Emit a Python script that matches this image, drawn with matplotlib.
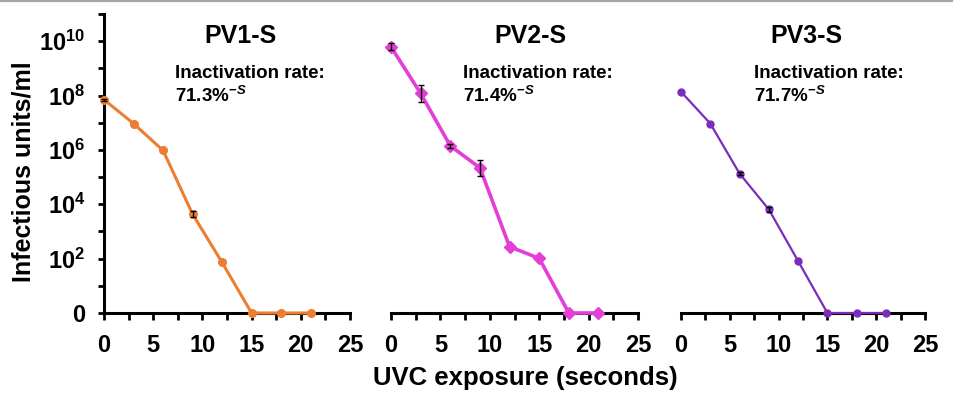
import numpy as np
import matplotlib
matplotlib.use("Agg")
import matplotlib.pyplot as plt
from matplotlib.lines import Line2D

plt.rcParams["font.family"] = ["Liberation Sans", "DejaVu Sans"]
plt.rcParams["font.weight"] = "bold"
plt.rcParams["mathtext.fontset"] = "custom"
plt.rcParams["mathtext.rm"] = "Liberation Sans:bold"
plt.rcParams["mathtext.bf"] = "Liberation Sans:bold"
plt.rcParams["mathtext.it"] = "Liberation Sans:bold:italic"

# exposure times (s)
times = [0, 3, 6, 9, 12, 15, 18, 21]

# log10 infectious units/ml (0 = below detection, drawn on the "0" line)
pv1_log = [7.85, 6.97, 5.98, 3.64, 1.86, 0, 0, 0]
pv2_log = [9.79, 8.08, 6.15, 5.34, 2.44, 2.01, 0, 0]
pv3_log = [8.14, 6.97, 5.13, 3.81, 1.91, 0, 0, 0]

# error bar half-width in decades (0 = no bar)
pv1_err = [0.04, 0, 0, 0.1, 0, 0, 0, 0]
pv2_err = [0.13, 0.3, 0.08, 0.3, 0, 0, 0, 0]
pv3_err = [0, 0, 0.06, 0.08, 0, 0, 0, 0]

titles = ["PV1-S", "PV2-S", "PV3-S"]
rates = ["71.3%", "71.4%", "71.7%"]

ytick_exp = [0, 2, 4, 6, 8, 10]
ytick_labels = ["0", r"$10^{2}$", r"$10^{4}$", r"$10^{6}$", r"$10^{8}$", r"$10^{10}$"]
xticks = [0, 5, 10, 15, 20, 25]

panels = [
    dict(log=pv1_log, err=pv1_err, color="#ED7D31", marker="o", ms=5.5, lw=2.2,
         left=104, width=246, title_x=0.555, text_x=0.287),
    dict(log=pv2_log, err=pv2_err, color="#E33FD6", marker="D", ms=6.5, lw=2.6,
         left=391, width=247, title_x=0.565, text_x=0.29),
    dict(log=pv3_log, err=pv3_err, color="#7A2DBA", marker="o", ms=5.0, lw=1.6,
         left=681, width=244, title_x=0.515, text_x=0.30),
]

W, H = 955, 394
fig = plt.figure(figsize=(W / 100, H / 100), dpi=100)
bottom_px, top_px = 313, 14

for i, p in enumerate(panels):
    ax = fig.add_axes([p["left"] / W, 1 - bottom_px / H,
                       p["width"] / W, (bottom_px - top_px) / H])
    t = np.array(times, dtype=float)
    lg = np.array(p["log"])
    er = np.array(p["err"])
    y = 10.0 ** lg
    ax.plot(t, y, color=p["color"], lw=p["lw"], marker=p["marker"],
            ms=p["ms"], zorder=3, clip_on=False)
    m = er > 0
    yerr = np.vstack([y[m] - 10.0 ** (lg[m] - er[m]), 10.0 ** (lg[m] + er[m]) - y[m]])
    ax.errorbar(t[m], y[m], yerr=yerr, fmt="none", ecolor="black", elinewidth=1.0,
                capsize=2.5, capthick=1.0, zorder=4, clip_on=False)

    ax.set_yscale("log")
    ax.set_ylim(1, 1e11)
    ax.set_xlim(0, 25)
    ax.set_xticks(xticks)
    ax.set_xticks(np.arange(0, 25.1, 2.5), minor=True)
    ax.set_xticklabels([str(v) for v in xticks])

    for s in ["top", "right"]:
        ax.spines[s].set_visible(False)
    ax.spines["bottom"].set_linewidth(2.2)
    ax.spines["left"].set_linewidth(2.2)
    ax.tick_params(axis="x", which="both", direction="out", length=5, width=2.0,
                   labelsize=17, pad=10)
    ax.tick_params(axis="y", which="both", direction="out", length=4.5, width=2.0,
                   labelsize=17, pad=9)

    if i == 0:
        ax.set_yticks([10.0 ** e for e in ytick_exp])
        ax.set_yticks([10.0 ** e for e in range(1, 12, 2)], minor=True)
        ax.set_yticklabels(ytick_labels)
        ax.yaxis.set_minor_formatter(matplotlib.ticker.NullFormatter())
    else:
        ax.spines["left"].set_visible(False)
        ax.set_yticks([])
        ax.set_yticks([], minor=True)

    ax.text(p["title_x"], 0.925, titles[i], transform=ax.transAxes,
            ha="center", va="center", fontsize=18, fontweight="bold")
    ax.text(p["text_x"], 0.80, "Inactivation rate:", transform=ax.transAxes,
            ha="left", va="center", fontsize=13.5, fontweight="bold")
    ax.text(p["text_x"], 0.725, rates[i] + r"$^{\mathit{-S}}$", transform=ax.transAxes,
            ha="left", va="center", fontsize=13.5, fontweight="bold")

fig.text(24 / W, 1 - 172 / H, "Infectious units/ml", rotation=90, ha="center",
         va="center", fontsize=18, fontweight="bold")
fig.text(525 / W, 1 - 385 / H, "UVC exposure (seconds)", ha="center", va="baseline",
         fontsize=18.5, fontweight="bold")

fig.add_artist(Line2D([0, 0.997], [0.998, 0.998], transform=fig.transFigure,
                      color="#a6a6a6", lw=1.6))

fig.savefig("out.png", dpi=100)
